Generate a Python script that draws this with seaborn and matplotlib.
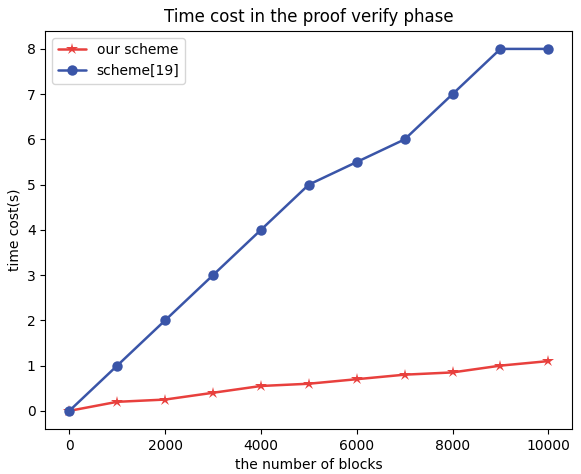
import pandas as pd
import matplotlib
matplotlib.use("Agg")
import matplotlib.pyplot as plt
import seaborn as sns

# data
blocks = [0, 1000, 2000, 3000, 4000, 5000, 6000, 7000, 8000, 9000, 10000]
our_scheme = [0, 0.2, 0.25, 0.4, 0.55, 0.6, 0.7, 0.8, 0.85, 1.0, 1.1]
scheme_19 = [0, 1, 2, 3, 4, 5, 5.5, 6, 7, 8, 8]

df = pd.DataFrame({
    'blocks': blocks * 2,
    'time': our_scheme + scheme_19,
    'scheme': ['our scheme'] * len(blocks) + ['scheme[19]'] * len(blocks),
})

sns.set_style("white", {'text.color': 'black', 'axes.labelcolor': 'black',
                        'xtick.color': 'black', 'ytick.color': 'black'})
plt.rcParams['font.family'] = ['DejaVu Sans']

fig, ax = plt.subplots(figsize=(5.81, 4.74), dpi=100)
sns.lineplot(data=df, x='blocks', y='time', hue='scheme', style='scheme',
             markers={'our scheme': '*', 'scheme[19]': 'o'}, dashes=False,
             palette={'our scheme': '#e8403d', 'scheme[19]': '#3a55a8'},
             linewidth=1.8, markeredgewidth=0, ax=ax)
# bump marker sizes a bit: stars look larger in the reference
for line, ms in zip(ax.lines, [9, 7.5]):
    line.set_markersize(ms)

ax.set_title('Time cost in the proof verify phase')
ax.set_xlabel('the number of blocks')
ax.set_ylabel('time cost(s)')
ax.set_xticks([0, 2000, 4000, 6000, 8000, 10000])
ax.set_yticks(range(0, 9))
ax.tick_params(direction='out', length=3.5, width=0.8, left=True, bottom=True)
for s in ax.spines.values():
    s.set_color('black')
    s.set_linewidth(0.8)
leg = ax.legend(loc='upper left', title=None)
for h, ms in zip(leg.legend_handles, [9, 7.5]):
    h.set_markersize(ms)

fig.subplots_adjust(left=0.078, right=0.985, top=0.935, bottom=0.095)
fig.savefig('out.png')
